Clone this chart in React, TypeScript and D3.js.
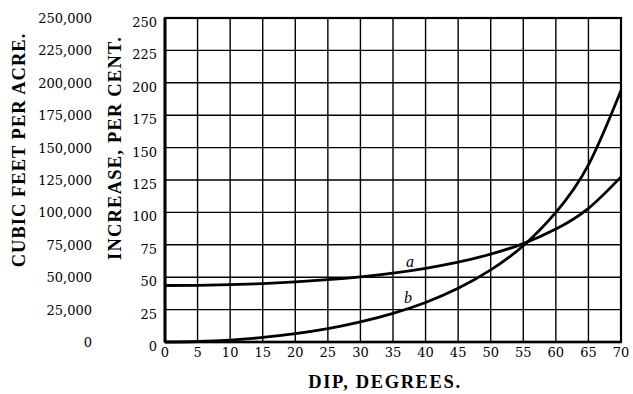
import React from "react";
import * as d3 from "d3";

const dipTicks = [0, 5, 10, 15, 20, 25, 30, 35, 40, 45, 50, 55, 60, 65, 70];
const percentTicks = [0, 25, 50, 75, 100, 125, 150, 175, 200, 225, 250];
const cubicTicks = ["0", "25,000", "50,000", "75,000", "100,000", "125,000", "150,000", "175,000", "200,000", "225,000", "250,000"];
// curve a (cubic feet per acre, in thousands = per cent scale)
const curveA = [43.6, 43.7, 44.2, 45.1, 46.4, 48.1, 50.3, 53.2, 56.9, 61.6, 67.8, 75.9, 87.1, 103.1, 127.4];
// curve b (increase, per cent)
const curveB = [0, 0.4, 1.5, 3.5, 6.4, 10.3, 15.5, 22.1, 30.5, 41.4, 55.6, 74.3, 100, 136.6, 194];

export default function App() {
  const W = 633, H = 394;
  const x = d3.scaleLinear().domain([0, 70]).range([165, 621]);
  const y = d3.scaleLinear().domain([0, 250]).range([342, 18]);
  const line = d3.line<number>().x((_, i) => x(dipTicks[i])).y((d) => y(d)).curve(d3.curveNatural);
  const serif = "'Liberation Serif', 'DejaVu Serif', serif";
  const tickFont = "'DejaVu Serif', serif";
  return (
    <svg width={W} height={H} style={{ position: "absolute", left: 0, top: 0, background: "#fff" }}>
      <rect width={W} height={H} fill="#fff" />
      {dipTicks.map((t) => (
        <line key={"v" + t} x1={x(t)} x2={x(t)} y1={y(0)} y2={y(250)} stroke="#000" strokeWidth={1.4} />
      ))}
      {percentTicks.map((t) => (
        <line key={"h" + t} x1={x(0)} x2={x(70)} y1={y(t)} y2={y(t)} stroke="#000" strokeWidth={1.4} />
      ))}
      <rect x={x(0)} y={y(250)} width={x(70) - x(0)} height={y(0) - y(250)} fill="none" stroke="#000" strokeWidth={2.2} />
      <line x1={x(0)} x2={x(0)} y1={y(0)} y2={y(250)} stroke="#000" strokeWidth={3} />
      <line x1={x(0)} x2={x(70)} y1={y(0)} y2={y(0)} stroke="#000" strokeWidth={2.6} />
      <path d={line(curveA) || ""} fill="none" stroke="#000" strokeWidth={2.8} />
      <path d={line(curveB) || ""} fill="none" stroke="#000" strokeWidth={2.8} />
      <text x={406} y={267} fontFamily={serif} fontStyle="italic" fontSize={16}>a</text>
      <text x={404} y={303} fontFamily={serif} fontStyle="italic" fontSize={16}>b</text>
      {dipTicks.map((t) => (
        <text key={"xl" + t} x={x(t)} y={357} textAnchor="middle" fontFamily={tickFont} fontSize={13}>{t}</text>
      ))}
      {percentTicks.map((t) => (
        <text key={"yl" + t} x={157} y={y(t) + 9} textAnchor="end" fontFamily={tickFont} fontSize={13}>{t}</text>
      ))}
      {cubicTicks.map((t, i) => (
        <text key={"cl" + t} x={92} y={y(percentTicks[i]) + 5} textAnchor="end" fontFamily={tickFont} fontSize={13}>{t}</text>
      ))}
      <text transform="translate(25,150) rotate(-90)" textAnchor="middle" fontFamily={serif} fontWeight="bold" fontSize={18.5} letterSpacing={1}>CUBIC FEET PER ACRE.</text>
      <text transform="translate(121,148) rotate(-90)" textAnchor="middle" fontFamily={serif} fontWeight="bold" fontSize={18.5} letterSpacing={1.2}>INCREASE, PER CENT.</text>
      <text x={385} y={388} textAnchor="middle" fontFamily={serif} fontWeight="bold" fontSize={18.5} letterSpacing={1.6}>DIP, DEGREES.</text>
    </svg>
  );
}
